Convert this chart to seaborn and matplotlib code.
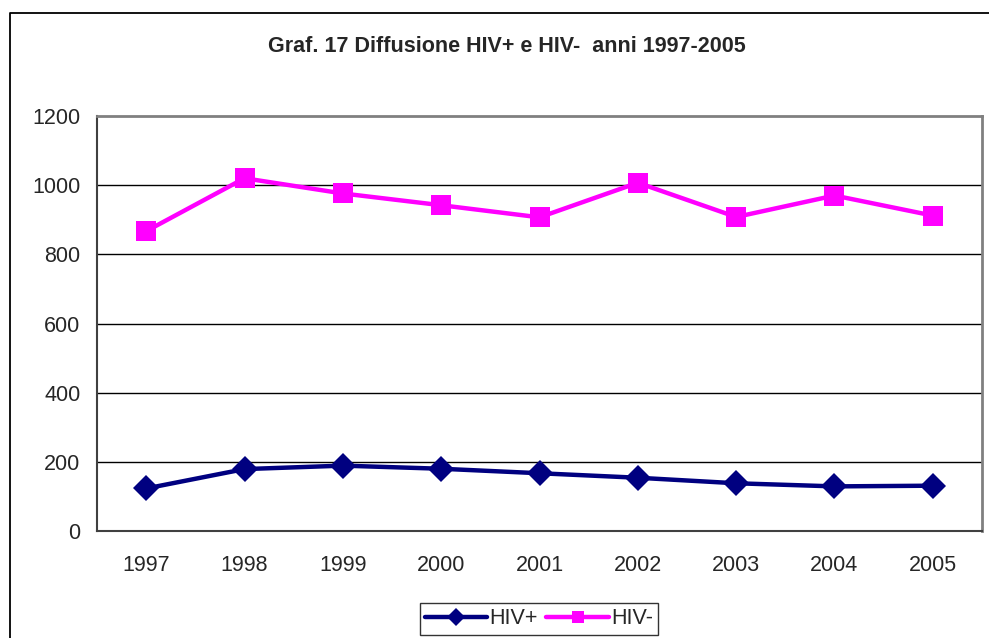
import matplotlib.pyplot as plt
import matplotlib.lines as mlines
import pandas as pd
import seaborn as sns

# values
years = ['1997', '1998', '1999', '2000', '2001', '2002', '2003', '2004', '2005']
hiv_pos = [123, 179, 189, 180, 167, 154, 138, 129, 131]
hiv_neg = [867, 1020, 976, 942, 907, 1007, 908, 970, 912]
series_names = ['HIV+', 'HIV-']

df = pd.DataFrame({
    'Anno': years * 2,
    'Valore': hiv_pos + hiv_neg,
    'Serie': [series_names[0]] * len(years) + [series_names[1]] * len(years),
})

sns.set_style('white')
plt.rcParams['font.family'] = ['Liberation Sans', 'DejaVu Sans']

fig = plt.figure(figsize=(9.89, 6.38), dpi=100)
ax = fig.add_axes([97 / 989, 107 / 638, 885 / 989, 415 / 638])

palette = {'HIV+': '#000080', 'HIV-': '#FF00FF'}
markers = {'HIV+': 'D', 'HIV-': 's'}
sns.lineplot(data=df, x='Anno', y='Valore', hue='Serie', style='Serie',
             palette=palette, markers=markers, dashes=False, linewidth=3.2,
             markersize=13, markeredgewidth=0, legend=False, ax=ax, sort=False)
for line in ax.lines:
    if line.get_marker() == 's':
        line.set_markersize(14)

ax.set_xlim(-0.5, len(years) - 0.5)
ax.set_ylim(0, 1200)
ax.set_yticks(range(0, 1201, 200))
ax.set_xticks(range(len(years)))
ax.set_xticklabels(years)
ax.set_xticks([i - 0.5 for i in range(len(years) + 1)], minor=True)
ax.tick_params(axis='x', which='major', length=0, pad=17, labelsize=15.5)
ax.tick_params(axis='x', which='minor', length=6, width=1, color='#404040', direction='out')
ax.tick_params(axis='y', length=6, width=1, color='#404040', direction='out', pad=6, labelsize=15.5)
ax.set_xlabel('')
ax.set_ylabel('')

for yv in range(200, 1200, 200):
    ax.axhline(yv, color='black', linewidth=1, zorder=0)

ax.spines['left'].set_color('#404040')
ax.spines['bottom'].set_color('#404040')
ax.spines['left'].set_linewidth(1.5)
ax.spines['bottom'].set_linewidth(1.5)
ax.spines['top'].set_color('#808080')
ax.spines['right'].set_color('#808080')
ax.spines['top'].set_linewidth(2)
ax.spines['right'].set_linewidth(2)

fig.text(507 / 989, 1 - 46 / 638, 'Graf. 17 Diffusione HIV+ e HIV-  anni 1997-2005',
         ha='center', va='center', fontsize=15.5, fontweight='bold')

# outer chart border: only left and top edges are visible
fig.lines.append(mlines.Line2D([9.5 / 989, 9.5 / 989, 1], [0, 1 - 13 / 638, 1 - 13 / 638],
                               transform=fig.transFigure, color='black', linewidth=1.3))

handles = [plt.Line2D([], [], color=palette[s], marker=markers[s], linewidth=3.2,
                      markersize=9, markeredgewidth=0) for s in series_names]
leg = fig.legend(handles, series_names, loc='center', bbox_to_anchor=(539 / 989, 1 - 619 / 638),
                 ncol=2, frameon=True, fancybox=False, fontsize=15.5, handlelength=2.9,
                 handletextpad=0.1, columnspacing=0.4, borderpad=0.25, borderaxespad=0)
leg.get_frame().set_edgecolor('black')
leg.get_frame().set_linewidth(1)

fig.savefig('out.png', dpi=100)
